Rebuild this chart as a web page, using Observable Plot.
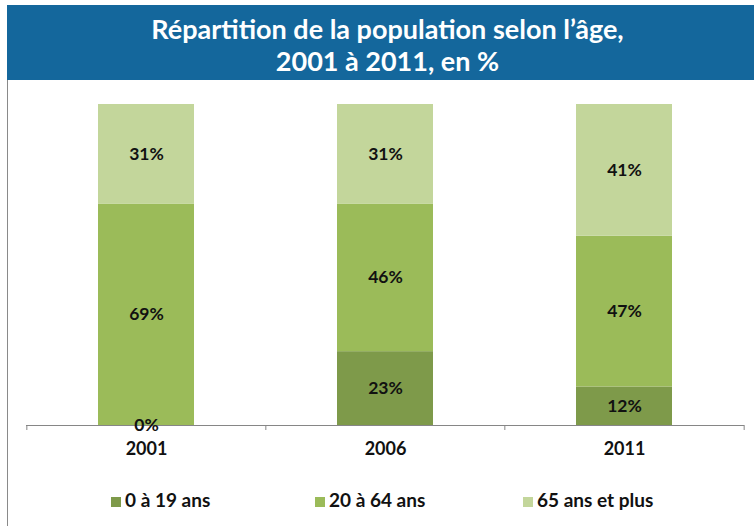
<!DOCTYPE html>
<html>
<head>
<meta charset="utf-8">
<script src="https://cdn.jsdelivr.net/npm/d3@7"></script>
<script src="https://cdn.jsdelivr.net/npm/@observablehq/plot@0.6"></script>
<style>
  body { margin: 0; background: #fff; }
  #wrap { position: relative; width: 754px; height: 526px; overflow: hidden; font-family: Lato, "Open Sans", sans-serif; }
  #banner { position: absolute; left: 7px; top: 5px; width: 747px; height: 75px; background: #14679c; color: #fff;
            font-weight: bold; font-size: 27px; line-height: 32px; text-align: center; padding-top: 8px; box-sizing: border-box; padding-left: 14px; }
  #border { position: absolute; left: 7px; top: 80px; width: 1px; height: 446px; background: #8a8a8a; }
  #chart { position: absolute; left: 0; top: 80px; }
  .leg { position: absolute; top: 489px; font-size: 19px; font-weight: bold; color: #111; line-height: 22px; }
  .leg span.sw { display: inline-block; width: 10px; height: 10px; margin-right: 4px; vertical-align: 0px; }
</style>
</head>
<body>
<div id="wrap">
  <div id="banner"></div>
  <div id="border"></div>
  <div id="chart"></div>
  <div id="legend"></div>
</div>
<script>
const titleLines = ["Répartition de la population selon l’âge,", "2001 à 2011, en %"];
const years = ["2001", "2006", "2011"];
const groups = ["0 à 19 ans", "20 à 64 ans", "65 ans et plus"];
const colors = ["#7e9a4a", "#9bbb59", "#c3d69b"];
const v0_19 = [0, 23, 12];
const v20_64 = [69, 46, 47];
const v65 = [31, 31, 41];

document.getElementById("banner").innerHTML = titleLines.join("<br>");

const series = [v0_19, v20_64, v65];
const data = [];
years.forEach((y, i) => groups.forEach((g, j) => data.push({year: y, group: g, value: series[j][i]})));

const W = 754, H = 400, mL = 26, mR = 10, mT = 24, mB = 55;
const step = (W - mL - mR) / years.length;
const tickLen = 5 * 100 / (H - mT - mB);

const chart = Plot.plot({
  width: W, height: H,
  marginLeft: mL, marginRight: mR, marginTop: mT, marginBottom: mB,
  style: {fontFamily: "Lato, 'Open Sans', sans-serif", background: "transparent"},
  x: {domain: years, paddingInner: 0.6, paddingOuter: 0.3, axis: null},
  y: {domain: [0, 100], axis: null},
  color: {domain: groups, range: colors},
  marks: [
    Plot.barY(data, {x: "year", y: "value", fill: "group", order: groups}),
    Plot.ruleY([0], {stroke: "#868686", strokeWidth: 1}),
    Plot.ruleX(years, {x: d => d, y1: 0, y2: -tickLen, dx: -step / 2, stroke: "#868686"}),
    Plot.ruleX(years.slice(-1), {x: d => d, y1: 0, y2: -tickLen, dx: step / 2, stroke: "#868686"}),
    Plot.text(data, Plot.stackY({x: "year", y: "value", z: "group", order: groups,
      text: d => d.value + "%", fontSize: 17.5, fontWeight: "bold", fill: "#111"})),
    Plot.text(years, {x: d => d, y: 0, dy: 24, text: d => d, fontSize: 18, fontWeight: "bold", fill: "#111"})
  ]
});
document.getElementById("chart").appendChild(chart);

const legLeft = [111, 315, 523];
const leg = document.getElementById("legend");
groups.forEach((g, i) => {
  const d = document.createElement("div");
  d.className = "leg";
  d.style.left = legLeft[i] + "px";
  d.innerHTML = `<span class="sw" style="background:${colors[i]}"></span>${g}`;
  leg.appendChild(d);
});
</script>
</body>
</html>
